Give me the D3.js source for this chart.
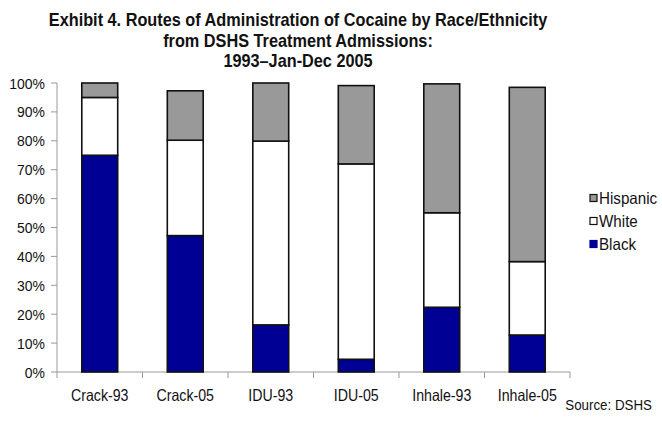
<!DOCTYPE html>
<html>
<head>
<meta charset="utf-8">
<script src="https://cdn.jsdelivr.net/npm/d3@7"></script>
<style>
  html, body { margin: 0; padding: 0; background: #fff; }
  svg { display: block; }
  text { font-family: "Liberation Sans", Arial, sans-serif; fill: #111; }
</style>
</head>
<body>
<svg id="chart" width="662" height="421"></svg>
<script>
const categories = ["Crack-93", "Crack-05", "IDU-93", "IDU-05", "Inhale-93", "Inhale-05"];
const black    = [75, 47.2, 16.3, 4.4, 22.4, 12.8];
const white    = [20, 33.0, 63.6, 67.6, 32.7, 25.4];
const hispanic = [5, 17.1, 20.1, 27.1, 44.6, 60.3];
const seriesNames = ["Black", "White", "Hispanic"];
const yTicks = [0, 10, 20, 30, 40, 50, 60, 70, 80, 90, 100];
const titleLines = ["Exhibit 4. Routes of Administration of Cocaine by Race/Ethnicity",
                    "from DSHS Treatment Admissions:",
                    "1993\u2013Jan-Dec 2005"];
const sourceText = "Source: DSHS";

const colors = { Black: "#000094", White: "#ffffff", Hispanic: "#999999" };
const narrow = 0.87;

const svg = d3.select("#chart");

const x = d3.scaleBand().domain(categories).range([57, 570]).paddingInner(0.58).paddingOuter(0.29);
const y = d3.scaleLinear().domain([0, 100]).range([372, 83]);

const rows = categories.map((c, i) => ({ cat: c, Black: black[i], White: white[i], Hispanic: hispanic[i] }));
const stacked = d3.stack().keys(seriesNames)(rows);

const pos = (px, py, sx) => `translate(${px},${py}) scale(${sx},1)`;

// title
svg.append("g").selectAll("text").data(titleLines).join("text")
  .attr("transform", (d, i) => pos(298, 26 + i * 20.5, 0.875))
  .attr("text-anchor", "middle")
  .style("font-weight", "bold").style("font-size", "18.6px")
  .text(d => d);

// axes lines
const axisColor = "#9a9a9a";
const step = x.step();
const axisG = svg.append("g").attr("stroke", axisColor).attr("stroke-width", 1);
axisG.append("line").attr("x1", 57).attr("x2", 57).attr("y1", y(100)).attr("y2", y(0));
axisG.selectAll("line.yt").data(yTicks).join("line").attr("class", "yt")
  .attr("x1", 51).attr("x2", 57).attr("y1", d => y(d)).attr("y2", d => y(d));
axisG.append("line").attr("x1", 57).attr("x2", 570).attr("y1", y(0)).attr("y2", y(0));
const boundaries = d3.range(categories.length + 1).map(i => 57 + i * step);
axisG.selectAll("line.tk").data(boundaries).join("line").attr("class", "tk")
  .attr("x1", d => d).attr("x2", d => d).attr("y1", y(0)).attr("y2", y(0) + 6);

// y tick labels
svg.append("g").selectAll("text").data(yTicks).join("text")
  .attr("transform", d => pos(45, y(d), 0.9))
  .attr("dy", "0.36em")
  .attr("text-anchor", "end").style("font-size", "15.5px")
  .text(d => d + "%");

// bars
svg.append("g").selectAll("g").data(stacked).join("g")
  .attr("fill", d => colors[d.key])
  .selectAll("rect").data(d => d).join("rect")
  .attr("x", d => x(d.data.cat))
  .attr("width", x.bandwidth())
  .attr("y", d => y(d[1]))
  .attr("height", d => y(d[0]) - y(d[1]))
  .attr("stroke", "#111").attr("stroke-width", 1.6);

// x labels
svg.append("g").selectAll("text").data(categories).join("text")
  .attr("transform", d => pos(x(d) + x.bandwidth() / 2, 401, narrow))
  .attr("text-anchor", "middle").style("font-size", "16.3px")
  .text(d => d);

// legend
const legendOrder = ["Hispanic", "White", "Black"];
const lg = svg.append("g").selectAll("g").data(legendOrder).join("g")
  .attr("transform", (d, i) => `translate(590, ${198 + i * 23})`);
lg.append("rect").attr("x", 0).attr("y", -3.5).attr("width", 7).attr("height", 7)
  .attr("fill", d => colors[d]).attr("stroke", d => d === "Black" ? colors[d] : "#111").attr("stroke-width", 1.2);
lg.append("text").attr("transform", pos(9, 0, 0.92)).attr("dy", "0.36em")
  .style("font-size", "16.5px").text(d => d);

// source
svg.append("text").attr("transform", pos(652, 410, 0.89)).attr("text-anchor", "end")
  .style("font-size", "15px").text(sourceText);
</script>
</body>
</html>
